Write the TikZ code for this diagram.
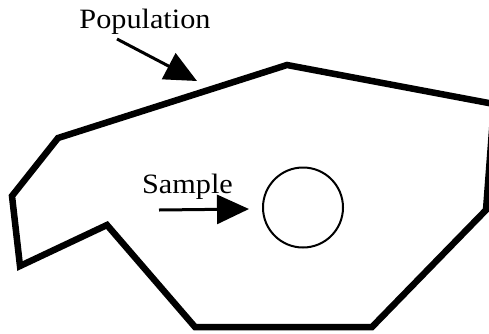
\documentclass[tikz,border=0pt]{standalone}
\usepackage{fontspec}
\setmainfont[FakeStretch=1.08]{Liberation Serif}
\usetikzlibrary{arrows.meta}
\begin{document}
\begin{tikzpicture}[x=1pt,y=-1pt,
  lbl/.style={font=\fontsize{28}{30}\selectfont, inner sep=0pt, anchor=base},
  bigarrow/.style={line width=3pt, -{Triangle[length=32pt,width=29pt]}},
  border/.style={line width=6.5pt, line join=miter}]
\useasboundingbox (0,0) rectangle (489,333);
\clip (0,0) rectangle (489,333);
\draw[border] (287,65) -- (494,104) -- (486,210) -- (372,327) -- (195,327) -- (107,225) -- (20,266) -- (12,196) -- (58,138) -- cycle;
\node[lbl] (pop) at (145,28) {Population};
\node[lbl] (samp) at (187.5,193) {Sample};
\node[draw, circle, line width=2pt, minimum size=80pt, inner sep=0pt] (circ) at (303,207.5) {};
\coordinate (popstart) at (117,39);
\coordinate (poptip) at (197,81);
\coordinate (sampstart) at (159,210);
\coordinate (samptip) at (249,209);
\draw[bigarrow] (popstart) -- (poptip);
\draw[bigarrow] (sampstart) -- (samptip);
\end{tikzpicture}
\end{document}
